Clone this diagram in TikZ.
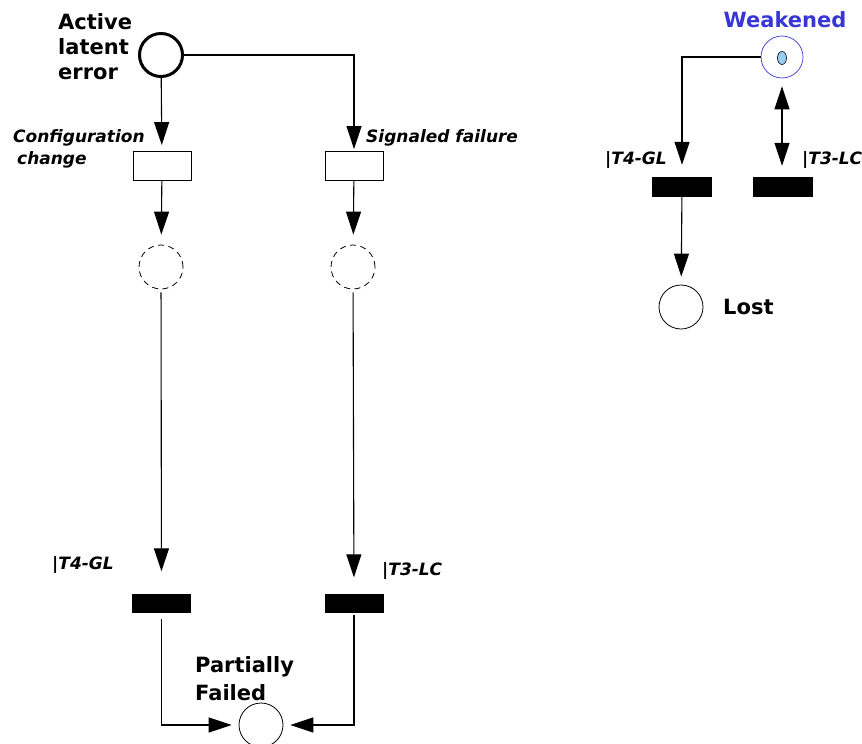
\documentclass[tikz,border=0pt]{standalone}
\usepackage{fontspec}
\setmainfont{DejaVu Sans}
\usetikzlibrary{arrows.meta,shapes.geometric}
\definecolor{weakblue}{RGB}{55,55,215}
\definecolor{tokenblue}{RGB}{150,205,240}
\tikzset{
  place/.style={circle, draw, line width=0.8pt, minimum size=44pt, inner sep=0pt},
  phantomplace/.style={place, dash pattern=on 6pt off 4.5pt},
  trans/.style={rectangle, draw, line width=0.9pt, minimum width=58pt, minimum height=29pt, inner sep=0pt},
  bar/.style={rectangle, fill=black, minimum width=59pt, minimum height=19pt, inner sep=0pt},
  tip/.tip={Triangle[length=23pt,width=15pt]},
  arr/.style={line width=1.1pt, -tip},
  dblarr/.style={line width=1.1pt, tip-tip},
  biglabel/.style={font=\fontsize{21}{25}\selectfont\bfseries, align=left, inner sep=0pt},
  smalllabel/.style={font=\fontsize{17}{22}\selectfont\bfseries\itshape, align=left, inner sep=0pt}
}
\begin{document}
\begin{tikzpicture}[x=1pt,y=-1pt]
\useasboundingbox (0,0) rectangle (862,744);

% left net: places
\node[place, line width=3pt, minimum size=43pt] (ale) at (161,55) {};
\node[phantomplace] (dc1) at (161,267) {};
\node[phantomplace] (dc2) at (353,267) {};
\node[place] (pf) at (261,725) {};

% left net: transitions
\node[trans] (cc) at (162,166) {};
\node[trans] (sf) at (354,166) {};
\node[bar] (t4) at (161.5,603) {};
\node[bar] (t3) at (354,603) {};

% left net: labels
\node[biglabel, anchor=west] (ale-l) at (58,47) {Active\\latent\\error};
\node[smalllabel, anchor=west] (cc-l) at (13,149) {Configuration\\\hspace{4pt}change};
\node[smalllabel, anchor=west] (sf-l) at (366,138) {Signaled failure};
\node[smalllabel, anchor=west] (t4-l) at (52,565) {|T4-GL};
\node[smalllabel, anchor=west] (t3-l) at (382,571) {|T3-LC};
\node[biglabel, font=\fontsize{21}{28}\selectfont\bfseries, anchor=west] (pf-l) at (195,679) {Partially\\Failed};

% left net: arcs
\draw[arr, shorten >=6pt] (ale) -- (cc);
\draw[arr, shorten >=2pt] (ale.east) -| (sf);
\draw[arr, shorten >=10pt] (cc) -- (dc1);
\draw[arr, shorten >=10pt] (sf) -- (dc2);
\draw[arr, shorten <=3pt, shorten >=22pt] (dc1) -- (t4);
\draw[arr, shorten <=3pt, shorten >=16pt] (dc2) -- (t3);
\draw[arr, shorten <=6pt, shorten >=7pt] (t4) |- (pf);
\draw[arr, shorten <=2pt, shorten >=7pt] (t3) |- (pf);

% right net
\node[place, draw=weakblue, line width=0.7pt, minimum size=42pt] (wk) at (782,57) {};
\node[ellipse, draw=black, line width=0.6pt, fill=tokenblue, minimum width=9pt, minimum height=13pt, inner sep=0pt] (tok) at (782,58) {};
\node[bar, minimum width=60pt, minimum height=20pt] (t4r) at (682,187) {};
\node[bar, minimum width=60pt, minimum height=20pt] (t3r) at (783,187) {};
\node[place] (lost) at (681,307) {};

\node[biglabel, text=weakblue, anchor=center] (wk-l) at (785,20) {Weakened};
\node[smalllabel, anchor=west] (t4r-l) at (605,160) {|T4-GL};
\node[smalllabel, anchor=west] (t3r-l) at (802,160) {|T3-LC};
\node[biglabel, anchor=west] (lost-l) at (723,307) {Lost};

\draw[arr, shorten >=12pt] (wk.west) -| (t4r);
\draw[dblarr, shorten <=8pt, shorten >=11pt] (wk.south) -- (wk.south |- t3r.north);
\draw[arr, shorten >=8pt] (t4r) -- (lost);
\end{tikzpicture}
\end{document}
